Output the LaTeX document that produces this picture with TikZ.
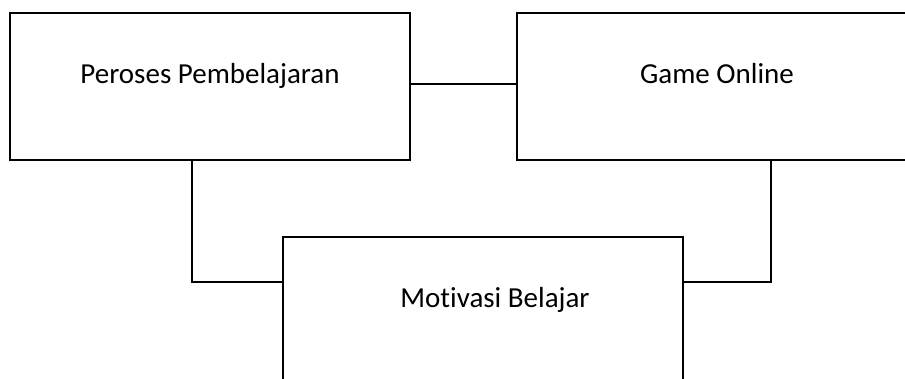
\documentclass[tikz,border=0pt]{standalone}
\usepackage{fontspec}
\setmainfont{Carlito}[Ligatures=NoCommon]
\usepackage{tikz}
\usetikzlibrary{positioning,calc}

\begin{document}
\begin{tikzpicture}[
        x=1pt, y=-1pt,
        box/.style={rectangle, draw, line width=2.6pt, fill=white, minimum width=400pt, minimum height=147pt, align=center, text height=21pt, text depth=28pt, font=\fontsize{29}{34}\selectfont},
        line/.style={line width=1.2pt}
    ]
        \useasboundingbox (0,0) rectangle (905,378);
        \clip (0,0) rectangle (905,378);

        % Connectors
        \coordinate (pp) at (210,86.5);
        \coordinate (go) at (717,86.5);
        \coordinate (mb) at (483,310.5);

        \node[box] (proses) at (pp) {Peroses Pembelajaran};
        \node[box] (game) at (go) {Game Online};
        \node[box] (motivasi) at (mb) {\hspace*{24pt}Motivasi Belajar};

        % Links between boxes
        \draw[line] ([yshift=2.5pt]proses.east) -- ([yshift=2.5pt]game.west);
        \draw[line] ([xshift=-18pt]proses.south) |- ([yshift=28.5pt]motivasi.west);
        \draw[line] ([xshift=54pt]game.south) |- ([yshift=28.5pt]motivasi.east);

    \end{tikzpicture}
\end{document}
